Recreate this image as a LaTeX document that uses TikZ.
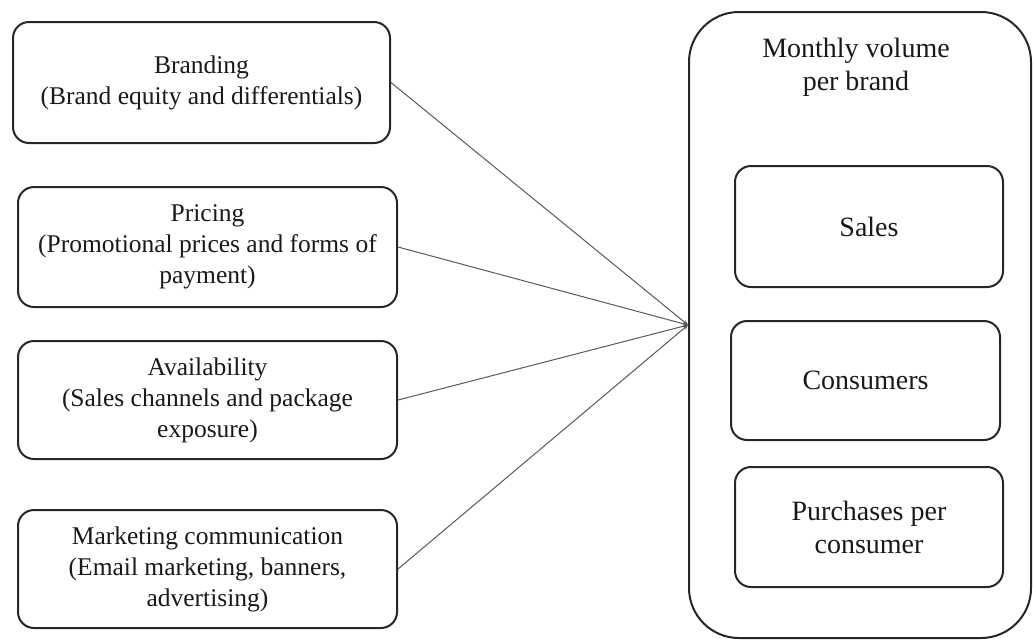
\documentclass[tikz,border=0pt]{standalone}
\usepackage{fontspec}
\setmainfont{Liberation Serif}
\usetikzlibrary{arrows.meta}
\begin{document}
\begin{tikzpicture}[x=1pt,y=-1pt,
  box/.style={draw=black!85, line width=2pt, rounded corners=16pt, align=center,
    inner sep=0pt, text=black!90, font=\fontsize{25.5}{31}\selectfont},
  rbox/.style={box, font=\fontsize{28}{33}\selectfont},
  conn/.style={draw=black!65, line width=1pt, -{Stealth[length=5pt,width=4pt]}}]
\useasboundingbox (0,0) rectangle (1033,641);
% left boxes
\node[box, minimum width=377pt, minimum height=121pt] (brand) at (201.5,82.5)
  {Branding\\(Brand equity and differentials)};
\node[box, minimum width=379pt, minimum height=120pt] (price) at (207.5,247)
  {Pricing\\(Promotional prices and forms of\\payment)};
\node[box, minimum width=379pt, minimum height=118pt] (avail) at (207.5,400)
  {Availability\\(Sales channels and package\\exposure)};
\node[box, minimum width=379pt, minimum height=118pt] (mkt) at (207.5,569)
  {Marketing communication\\(Email marketing, banners,\\advertising)};
% big box
\node[draw=black!85, line width=2pt, rounded corners=50pt, minimum width=342pt,
  minimum height=626pt, inner sep=0pt] (vol) at (860,325) {};
\node[align=center, inner sep=0pt, text=black!90, font=\fontsize{28}{33}\selectfont]
  (title) at (856,67) {Monthly volume\\per brand};
% inner boxes
\node[rbox, minimum width=268pt, minimum height=121pt] (sales) at (869,226.5) {Sales};
\node[rbox, minimum width=269pt, minimum height=119pt] (cons) at (865.5,380.5) {Consumers};
\node[rbox, minimum width=268pt, minimum height=120pt] (purch) at (869,527)
  {Purchases per\\consumer};
% connectors
\draw[conn] (brand.east) -- (vol.west);
\draw[conn] (price.east) -- (vol.west);
\draw[conn] (avail.east) -- (vol.west);
\draw[conn] (mkt.east) -- (vol.west);
\end{tikzpicture}
\end{document}
